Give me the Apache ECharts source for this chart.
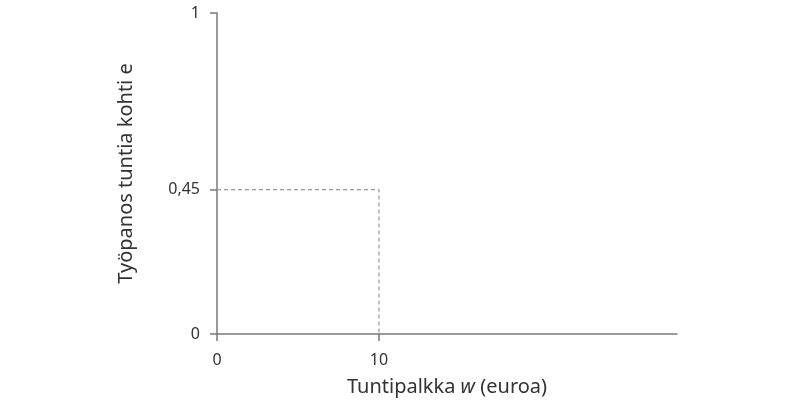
<!DOCTYPE html>
<html>
<head>
<meta charset="utf-8">
<script src="https://cdn.jsdelivr.net/npm/echarts@6/dist/echarts.min.js"></script>
<style>
  html, body { margin: 0; padding: 0; background: #fff; }
  #chart { width: 809px; height: 412px; }
</style>
</head>
<body>
<div id="chart"></div>
<script>
// data
var wageTicks = [0, 10];
var effortTicks = [0, 0.45, 1];
var wagePoint = 10;
var effortPoint = 0.45;
var wageMax = 28.4;

var guide = [[0, effortPoint], [wagePoint, effortPoint], [wagePoint, 0]];

var chart = echarts.init(document.getElementById('chart'));
var font = 'Noto Sans';
var axisColor = '#7a7a7a';

var option = {
    animation: false,
    grid: {
        left: 217,
        right: 132,
        top: 13,
        bottom: 78
    },
    xAxis: {
        type: 'value',
        min: 0,
        max: wageMax,
        name: 'Tuntipalkka {i|w} (euroa)',
        nameLocation: 'middle',
        nameGap: 43,
        nameTextStyle: {
            fontFamily: font,
            fontSize: 20,
            color: '#333',
            rich: {
                i: { fontFamily: font, fontSize: 20, fontStyle: 'italic', color: '#333' }
            }
        },
        splitLine: { show: false },
        axisLine: { lineStyle: { color: axisColor, width: 1.5 } },
        axisTick: { customValues: wageTicks, length: 7, lineStyle: { color: axisColor, width: 1.5 } },
        axisLabel: {
            customValues: wageTicks,
            margin: 18,
            fontFamily: font,
            fontSize: 16,
            color: '#333'
        }
    },
    yAxis: {
        type: 'value',
        min: 0,
        max: 1,
        name: 'Työpanos tuntia kohti e',
        nameLocation: 'middle',
        nameGap: 81,
        nameTextStyle: {
            fontFamily: font,
            fontSize: 20,
            color: '#333'
        },
        splitLine: { show: false },
        axisLine: { show: true, lineStyle: { color: axisColor, width: 1.5 } },
        axisTick: { show: true, customValues: effortTicks, length: 7, lineStyle: { color: axisColor, width: 1.5 } },
        axisLabel: {
            customValues: effortTicks,
            margin: 17,
            fontFamily: font,
            fontSize: 16,
            color: '#333',
            formatter: function (v) {
                return String(v).replace('.', ',');
            }
        }
    },
    series: [
        {
            type: 'line',
            data: guide,
            symbol: 'none',
            silent: true,
            lineStyle: { color: '#999', width: 1.2, type: [4, 3] }
        }
    ]
};
chart.setOption(option);
</script>
</body>
</html>
